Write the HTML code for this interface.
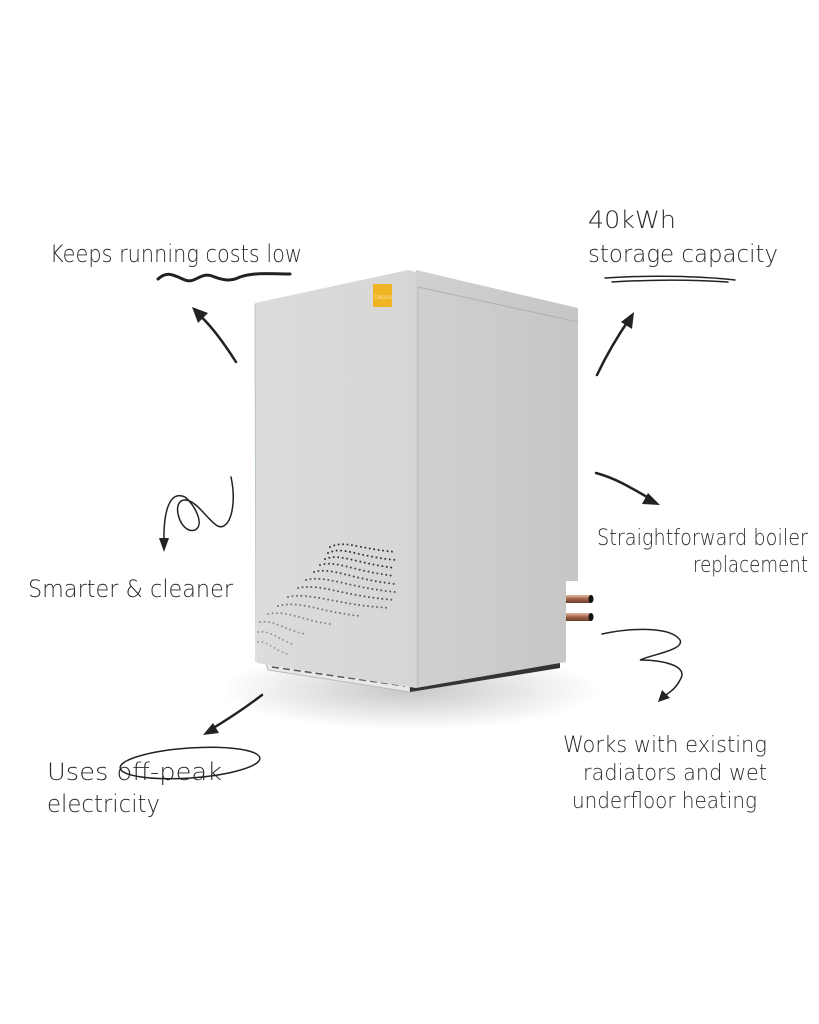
<!DOCTYPE html>
<html><head><meta charset="utf-8"><style>
html,body{margin:0;padding:0;background:#fff;}
svg{display:block}
text{font-family:"DejaVu Sans","Liberation Sans",sans-serif;fill:#2a2a2a;font-weight:200}
</style></head><body>
<svg width="819" height="1024" viewBox="0 0 819 1024" xmlns="http://www.w3.org/2000/svg">
<defs>
<radialGradient id="sh" cx="0.5" cy="0.5" r="0.5">
<stop offset="0" stop-color="#000" stop-opacity="0.22"/>
<stop offset="1" stop-color="#000" stop-opacity="0"/>
</radialGradient>
<linearGradient id="side" x1="0" x2="1"><stop offset="0" stop-color="#d0d0cf"/><stop offset="1" stop-color="#c6c6c5"/></linearGradient>
<linearGradient id="front" x1="0" x2="1"><stop offset="0" stop-color="#dcdcdb"/><stop offset="1" stop-color="#d6d6d5"/></linearGradient>
<linearGradient id="pipe" x1="0" y1="0" x2="0" y2="1"><stop offset="0" stop-color="#e6b8a0"/><stop offset="0.5" stop-color="#a0624a"/><stop offset="1" stop-color="#6a3a2a"/></linearGradient>
</defs>
<ellipse cx="410" cy="690" rx="190" ry="40" fill="url(#sh)"/>
<polygon points="265,660 410,682 410,692 268,670" fill="#e8e8e8" stroke="#bbb" stroke-width="1"/>
<line x1="272" y1="667" x2="405" y2="686" stroke="#555" stroke-width="1.5" stroke-dasharray="7 4"/>
<polygon points="410,682 560,660 560,668 410,692" fill="#333"/>
<polygon points="416,270 578,308 578,581 566,581 566,662 416,688" fill="url(#side)"/>
<line x1="418" y1="287" x2="578" y2="322" stroke="#b0b0b0" stroke-width="1"/>
<line x1="418" y1="287" x2="418" y2="686" stroke="#bdbdbd" stroke-width="1"/>
<polygon points="255,303 408,270 416,272 416,688 257,663" fill="url(#front)"/>
<line x1="255" y1="304" x2="256" y2="662" stroke="#b8c4c4" stroke-width="1"/>
<rect x="373" y="284" width="19" height="23" fill="#f0b323"/>
<text x="375" y="299" font-size="6" style="fill:#fff">tepeo</text>
<rect x="566" y="595" width="25" height="8" fill="url(#pipe)"/>
<ellipse cx="591" cy="599" rx="2.5" ry="4" fill="#111"/>
<rect x="566" y="613" width="25" height="8" fill="url(#pipe)"/>
<ellipse cx="591" cy="617" rx="2.5" ry="4" fill="#111"/>
<g fill="none" stroke="#333" stroke-width="2" stroke-linecap="round" stroke-dasharray="0 4.5">
<path d="M330,547 C345,540 355,548 395,552"/>
<path d="M328,553 C343,546 355,556 395,560"/>
<path d="M325,559 C340,553 355,563 395,568"/>
<path d="M320,565 C337,560 352,571 395,576" stroke-opacity=".9"/>
<path d="M314,572 C333,567 350,579 395,584" stroke-opacity=".9"/>
<path d="M306,580 C327,575 346,587 395,592" stroke-opacity=".8"/>
<path d="M298,588 C320,583 342,596 395,600" stroke-opacity=".8"/>
<path d="M288,597 C312,592 336,605 390,608" stroke-opacity=".7"/>
<path d="M278,606 C300,600 320,612 360,616" stroke-opacity=".6"/>
<path d="M268,614 C288,610 300,620 330,624" stroke-opacity=".5"/>
<path d="M260,622 C275,620 285,630 305,634" stroke-opacity=".45"/>
<path d="M258,632 C270,630 280,640 295,645" stroke-opacity=".4"/>
<path d="M258,642 C266,640 274,650 290,655" stroke-opacity=".35"/>
</g>
<g font-size="24">
<text x="50" y="262" textLength="252" lengthAdjust="spacingAndGlyphs">Keeps running costs low</text>
<text x="588" y="228" textLength="88" lengthAdjust="spacingAndGlyphs">40kWh</text>
<text x="588" y="262" textLength="190" lengthAdjust="spacingAndGlyphs">storage capacity</text>
<text x="597" y="545" textLength="211" lengthAdjust="spacingAndGlyphs" font-size="22">Straightforward boiler</text>
<text x="693" y="572" textLength="115" lengthAdjust="spacingAndGlyphs" font-size="22">replacement</text>
<text x="28" y="597" textLength="205" lengthAdjust="spacingAndGlyphs">Smarter &amp; cleaner</text>
<text x="563" y="752" textLength="204" lengthAdjust="spacingAndGlyphs" font-size="22">Works with existing</text>
<text x="583" y="780" textLength="184" lengthAdjust="spacingAndGlyphs" font-size="22">radiators and wet</text>
<text x="572" y="808" textLength="185" lengthAdjust="spacingAndGlyphs" font-size="22">underfloor heating</text>
<text x="47" y="780" textLength="175" lengthAdjust="spacingAndGlyphs">Uses off-peak</text>
<text x="47" y="812" textLength="113" lengthAdjust="spacingAndGlyphs">electricity</text>
</g>
<g fill="none" stroke="#222" stroke-linecap="round">
<path d="M158,279 C168,270 175,276 185,280 C195,284 200,272 212,276 C222,280 230,282 240,277 C255,272 270,274 290,274" stroke-width="3"/>
<path d="M605,278 C650,275 700,276 735,280" stroke-width="1.5"/>
<path d="M612,282 C660,279 700,280 728,282" stroke-width="1.5"/>
<ellipse cx="190" cy="763" rx="70" ry="15" transform="rotate(-4 190 763)" stroke-width="1.5"/>
<path d="M236,362 C222,340 208,322 196,312" stroke-width="2.5"/>
<path d="M597,375 C605,358 615,340 630,318" stroke-width="2.5"/>
<path d="M596,473 C615,478 630,487 652,500" stroke-width="2.5"/>
<path d="M262,695 C245,708 230,718 210,730" stroke-width="2.5"/>
<path d="M231,477 C236,500 232,520 225,525 C215,535 200,500 185,500 C170,500 180,535 195,530 C205,525 195,505 185,497 C170,490 163,510 164,545" stroke-width="1.5"/>
<path d="M602,634 C630,628 670,626 680,640 C685,650 650,655 640,660 C660,660 690,665 680,680 C675,690 668,693 662,698" stroke-width="1.5"/>
</g>
<g fill="#222">
<polygon points="192,307 208,313 198,323"/>
<polygon points="634,312 632,329 621,322"/>
<polygon points="660,505 642,504 648,493"/>
<polygon points="203,735 213,723 219,733"/>
<polygon points="164,552 159,538 169,538"/>
<polygon points="658,702 662,690 670,698"/>
</g>
</svg>
</body></html>
